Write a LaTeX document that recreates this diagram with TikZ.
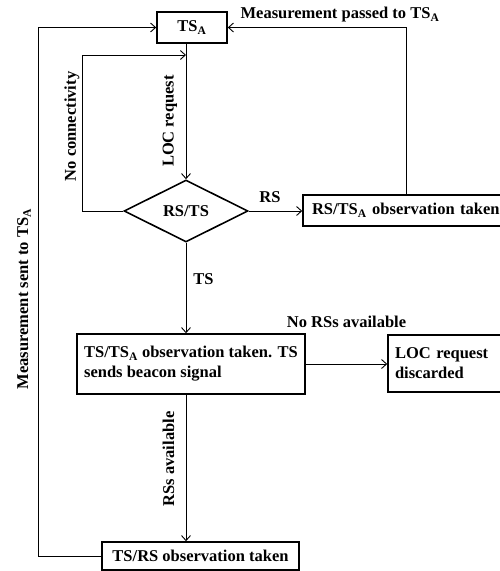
\documentclass[tikz,border=0pt]{standalone}
\usepackage{fontspec}
\setmainfont{Liberation Serif}
\usepackage{tikz}
\usetikzlibrary{shapes,arrows,arrows.meta,positioning}
\newcommand{\TSA}{TS\textsubscript{A}}

\begin{document}
\begin{tikzpicture}[x=1pt,y=-1pt,
		font=\fontsize{16.5}{20}\selectfont\bfseries,
		>={Straight Barb[length=5pt,width=9pt]},
		box/.style={draw,rectangle,line width=1.6pt,inner sep=0pt},
		leftbox/.style={box,align=left,inner xsep=8pt},
		line/.style={line width=0.9pt},
		lbl/.style={inner sep=0pt}]
	\useasboundingbox (0,0) rectangle (499,571);
	
	% Boxes
	\node[box,minimum width=70pt,minimum height=31pt] (tsa) at (192,27.5) {\TSA};
	\node[draw,diamond,aspect=2,line width=1.6pt,minimum width=124pt,minimum height=62pt,inner sep=0pt] (dec) at (186,211) {RS/TS};
	\node[leftbox,text width=190pt,minimum height=31pt,inner xsep=9pt] (rsobs) at (407,210.5) {RS/\TSA{} observation taken};
	\node[box,align=left,minimum width=228pt,minimum height=60pt] (tsobs) at (191,364) {TS/\TSA{} observation taken. TS\\sends beacon signal};
	\node[leftbox,text width=106pt,minimum height=57pt,inner xsep=7pt] (disc) at (448,363.5) {LOC request\\discarded};
	\node[box,minimum width=197pt,minimum height=28pt] (tsrs) at (200.5,556) {TS/RS observation taken};
	
	% Connectors
	\coordinate (ncin) at (186,55);
	\draw[line,->] (dec.north |- tsa.south) -- (dec.north);
	\draw[line,->] (dec.east) -- (dec.east -| rsobs.west);
	\draw[line,->] ([xshift=-1pt]rsobs.north) |- (tsa.east);
	\draw[line,->] (dec.west) -| (82,55) -- (ncin);
	\draw[line,->] (dec.south) -- (dec.south |- tsobs.north);
	\draw[line,->] (tsobs.east) -- (tsobs.east -| disc.west);
	\draw[line,->] (dec.south |- tsobs.south) -- (dec.south |- tsrs.north);
	\draw[line,->] (tsrs.west) -- ++(-63,0) |- (tsa.west);
	
	% Labels
	\node[lbl] (lpass) at (340,15) {Measurement passed to \TSA};
	\node[lbl] (lrs) at (270,197) {RS};
	\node[lbl] (lts) at (203.5,279) {TS};
	\node[lbl] (lnors) at (346.5,322) {No RSs available};
	\node[lbl,rotate=90] (lloc) at (170,121) {LOC request};
	\node[lbl,rotate=90] (lnocon) at (72,126.5) {No connectivity};
	\node[lbl,rotate=90] (lsent) at (24,299) {Measurement sent to \TSA};
	\node[lbl,rotate=90] (lrsav) at (168.5,459) {RSs available};
\end{tikzpicture}
\end{document}
